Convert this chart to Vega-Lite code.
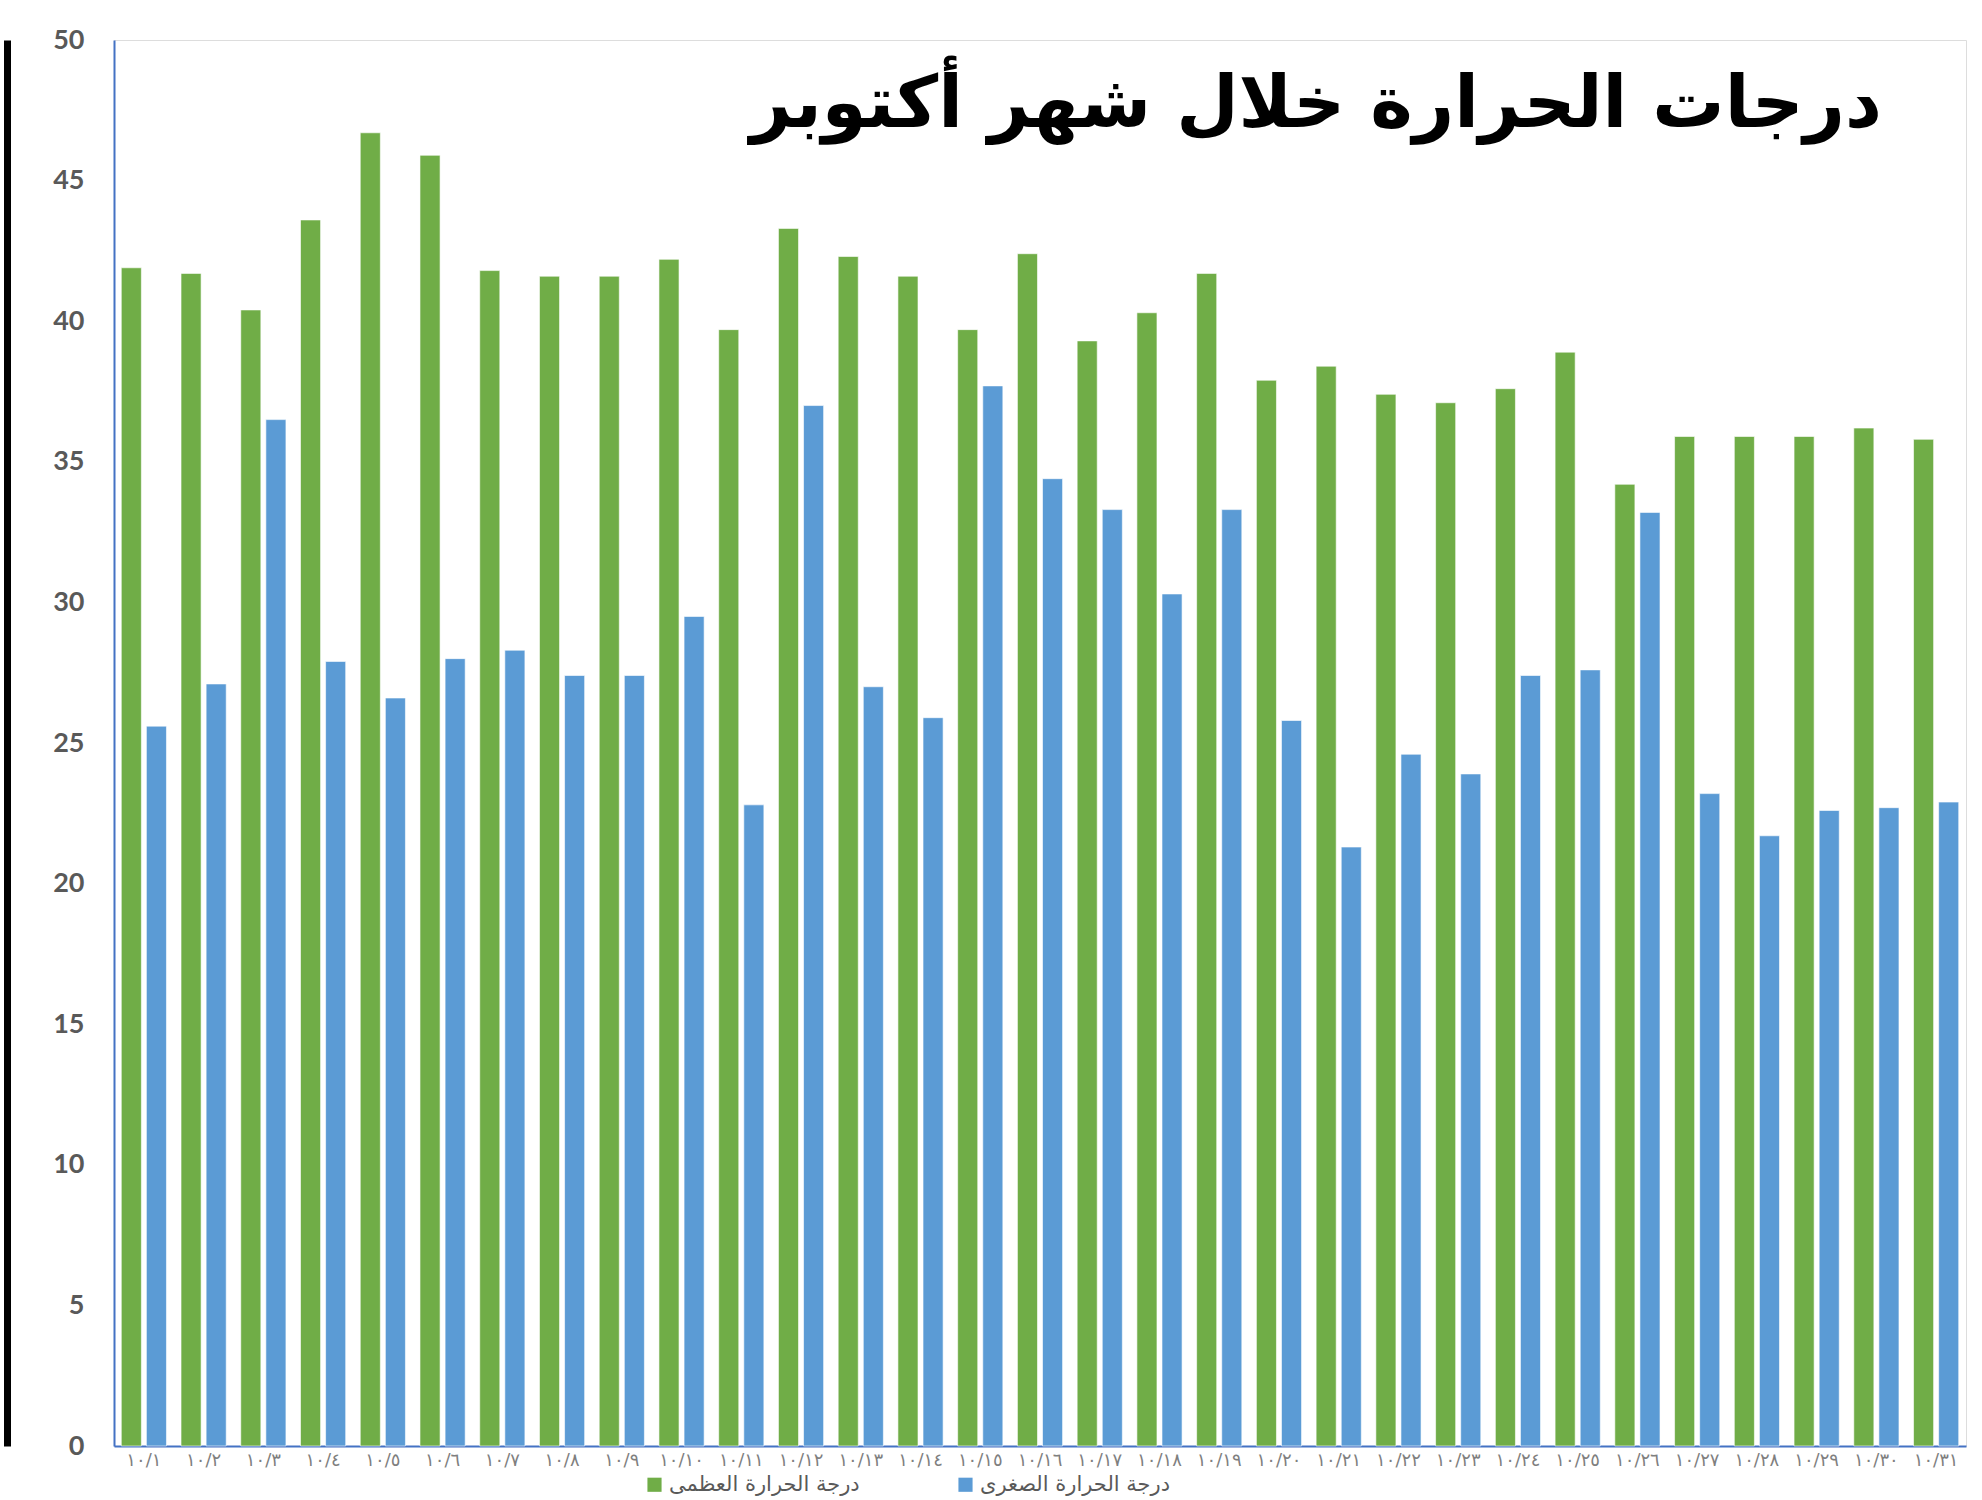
{
  "$schema": "https://vega.github.io/schema/vega-lite/v6.json",
  "autosize": {"type": "none"},
  "width": 1852,
  "height": 1406,
  "padding": {"left": 114, "top": 40, "right": 16, "bottom": 54},
  "background": "white",
  "title": {
    "text": "درجات الحرارة خلال شهر أكتوبر",
    "font": "DejaVu Sans",
    "fontSize": 72,
    "fontWeight": "bold",
    "color": "black",
    "anchor": "end",
    "frame": "group",
    "orient": "top",
    "dx": -84,
    "dy": 120
  },
  "data": {
    "values": [
      {"date": "١٠/١", "series": "درجة الحرارة العظمى", "value": 41.9},
      {"date": "١٠/١", "series": "درجة الحرارة الصغرى", "value": 25.6},
      {"date": "١٠/٢", "series": "درجة الحرارة العظمى", "value": 41.7},
      {"date": "١٠/٢", "series": "درجة الحرارة الصغرى", "value": 27.1},
      {"date": "١٠/٣", "series": "درجة الحرارة العظمى", "value": 40.4},
      {"date": "١٠/٣", "series": "درجة الحرارة الصغرى", "value": 36.5},
      {"date": "١٠/٤", "series": "درجة الحرارة العظمى", "value": 43.6},
      {"date": "١٠/٤", "series": "درجة الحرارة الصغرى", "value": 27.9},
      {"date": "١٠/٥", "series": "درجة الحرارة العظمى", "value": 46.7},
      {"date": "١٠/٥", "series": "درجة الحرارة الصغرى", "value": 26.6},
      {"date": "١٠/٦", "series": "درجة الحرارة العظمى", "value": 45.9},
      {"date": "١٠/٦", "series": "درجة الحرارة الصغرى", "value": 28.0},
      {"date": "١٠/٧", "series": "درجة الحرارة العظمى", "value": 41.8},
      {"date": "١٠/٧", "series": "درجة الحرارة الصغرى", "value": 28.3},
      {"date": "١٠/٨", "series": "درجة الحرارة العظمى", "value": 41.6},
      {"date": "١٠/٨", "series": "درجة الحرارة الصغرى", "value": 27.4},
      {"date": "١٠/٩", "series": "درجة الحرارة العظمى", "value": 41.6},
      {"date": "١٠/٩", "series": "درجة الحرارة الصغرى", "value": 27.4},
      {"date": "١٠/١٠", "series": "درجة الحرارة العظمى", "value": 42.2},
      {"date": "١٠/١٠", "series": "درجة الحرارة الصغرى", "value": 29.5},
      {"date": "١٠/١١", "series": "درجة الحرارة العظمى", "value": 39.7},
      {"date": "١٠/١١", "series": "درجة الحرارة الصغرى", "value": 22.8},
      {"date": "١٠/١٢", "series": "درجة الحرارة العظمى", "value": 43.3},
      {"date": "١٠/١٢", "series": "درجة الحرارة الصغرى", "value": 37.0},
      {"date": "١٠/١٣", "series": "درجة الحرارة العظمى", "value": 42.3},
      {"date": "١٠/١٣", "series": "درجة الحرارة الصغرى", "value": 27.0},
      {"date": "١٠/١٤", "series": "درجة الحرارة العظمى", "value": 41.6},
      {"date": "١٠/١٤", "series": "درجة الحرارة الصغرى", "value": 25.9},
      {"date": "١٠/١٥", "series": "درجة الحرارة العظمى", "value": 39.7},
      {"date": "١٠/١٥", "series": "درجة الحرارة الصغرى", "value": 37.7},
      {"date": "١٠/١٦", "series": "درجة الحرارة العظمى", "value": 42.4},
      {"date": "١٠/١٦", "series": "درجة الحرارة الصغرى", "value": 34.4},
      {"date": "١٠/١٧", "series": "درجة الحرارة العظمى", "value": 39.3},
      {"date": "١٠/١٧", "series": "درجة الحرارة الصغرى", "value": 33.3},
      {"date": "١٠/١٨", "series": "درجة الحرارة العظمى", "value": 40.3},
      {"date": "١٠/١٨", "series": "درجة الحرارة الصغرى", "value": 30.3},
      {"date": "١٠/١٩", "series": "درجة الحرارة العظمى", "value": 41.7},
      {"date": "١٠/١٩", "series": "درجة الحرارة الصغرى", "value": 33.3},
      {"date": "١٠/٢٠", "series": "درجة الحرارة العظمى", "value": 37.9},
      {"date": "١٠/٢٠", "series": "درجة الحرارة الصغرى", "value": 25.8},
      {"date": "١٠/٢١", "series": "درجة الحرارة العظمى", "value": 38.4},
      {"date": "١٠/٢١", "series": "درجة الحرارة الصغرى", "value": 21.3},
      {"date": "١٠/٢٢", "series": "درجة الحرارة العظمى", "value": 37.4},
      {"date": "١٠/٢٢", "series": "درجة الحرارة الصغرى", "value": 24.6},
      {"date": "١٠/٢٣", "series": "درجة الحرارة العظمى", "value": 37.1},
      {"date": "١٠/٢٣", "series": "درجة الحرارة الصغرى", "value": 23.9},
      {"date": "١٠/٢٤", "series": "درجة الحرارة العظمى", "value": 37.6},
      {"date": "١٠/٢٤", "series": "درجة الحرارة الصغرى", "value": 27.4},
      {"date": "١٠/٢٥", "series": "درجة الحرارة العظمى", "value": 38.9},
      {"date": "١٠/٢٥", "series": "درجة الحرارة الصغرى", "value": 27.6},
      {"date": "١٠/٢٦", "series": "درجة الحرارة العظمى", "value": 34.2},
      {"date": "١٠/٢٦", "series": "درجة الحرارة الصغرى", "value": 33.2},
      {"date": "١٠/٢٧", "series": "درجة الحرارة العظمى", "value": 35.9},
      {"date": "١٠/٢٧", "series": "درجة الحرارة الصغرى", "value": 23.2},
      {"date": "١٠/٢٨", "series": "درجة الحرارة العظمى", "value": 35.9},
      {"date": "١٠/٢٨", "series": "درجة الحرارة الصغرى", "value": 21.7},
      {"date": "١٠/٢٩", "series": "درجة الحرارة العظمى", "value": 35.9},
      {"date": "١٠/٢٩", "series": "درجة الحرارة الصغرى", "value": 22.6},
      {"date": "١٠/٣٠", "series": "درجة الحرارة العظمى", "value": 36.2},
      {"date": "١٠/٣٠", "series": "درجة الحرارة الصغرى", "value": 22.7},
      {"date": "١٠/٣١", "series": "درجة الحرارة العظمى", "value": 35.8},
      {"date": "١٠/٣١", "series": "درجة الحرارة الصغرى", "value": 22.9}
    ]
  },
  "encoding": {
    "x": {
      "field": "date",
      "type": "nominal",
      "sort": null,
      "scale": {"paddingInner": 0, "paddingOuter": 0},
      "axis": {
        "title": null,
        "labelAngle": 0,
        "ticks": false,
        "domainColor": "#4472C4",
        "domainWidth": 2,
        "labelFont": "DejaVu Sans",
        "labelFontSize": 18,
        "labelColor": "#7f7f7f",
        "labelPadding": 5,
        "labelOverlap": false,
        "labelBound": false
      }
    }
  },
  "layer": [
    {
      "mark": {"type": "bar", "stroke": "white", "strokeWidth": 1, "strokeOpacity": 0.6},
      "encoding": {
        "xOffset": {
          "field": "series",
          "type": "nominal",
          "sort": ["درجة الحرارة العظمى", "درجة الحرارة الصغرى"],
          "scale": {"paddingInner": 0.2, "paddingOuter": 0.29}
        },
        "y": {
          "field": "value",
          "type": "quantitative",
          "scale": {"domain": [0, 50], "nice": false},
          "axis": {
            "title": null,
            "values": [0, 5, 10, 15, 20, 25, 30, 35, 40, 45, 50],
            "grid": false,
            "ticks": false,
            "domainColor": "#4472C4",
            "domainWidth": 2,
            "labelFont": "Lato",
            "labelFontWeight": "bold",
            "labelFontSize": 27,
            "labelColor": "#595959",
            "labelPadding": 30
          }
        },
        "color": {
          "field": "series",
          "type": "nominal",
          "scale": {
            "domain": ["درجة الحرارة العظمى", "درجة الحرارة الصغرى"],
            "range": ["#70AD47", "#5B9BD5"]
          },
          "legend": {
            "title": null,
            "orient": "none",
            "direction": "horizontal",
            "legendX": 530,
            "legendY": 1434,
            "symbolType": "square",
            "symbolSize": 200,
            "symbolStrokeWidth": 0,
            "labelFont": "DejaVu Sans",
            "labelFontSize": 21,
            "labelLimit": 400,
            "labelColor": "#595959",
            "columnPadding": 95
          }
        }
      }
    },
    {
      "mark": {"type": "tick", "opacity": 0},
      "encoding": {
        "y": {
          "field": "value",
          "type": "quantitative",
          "scale": {"domain": [0, 50], "nice": false},
          "axis": {
            "orient": "left",
            "offset": 107,
            "title": null,
            "labels": false,
            "ticks": false,
            "grid": false,
            "domainColor": "black",
            "domainWidth": 7
          }
        }
      }
    }
  ],
  "resolve": {"axis": {"y": "independent"}}
}
